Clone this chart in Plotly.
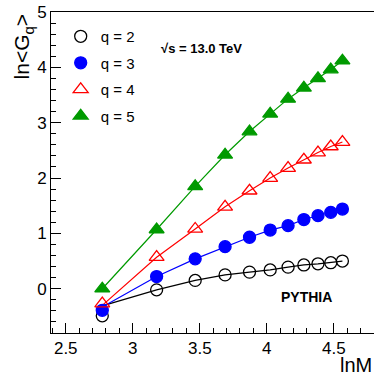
import numpy as np
import plotly.graph_objects as go

M = [16, 24, 32, 40, 48, 56, 64, 72, 80, 88, 96]
lnM = list(np.log(M))

q2 = [-0.49, -0.02, 0.15, 0.25, 0.30, 0.34, 0.39, 0.43, 0.45, 0.47, 0.50]
q3 = [-0.39, 0.22, 0.54, 0.76, 0.93, 1.06, 1.14, 1.25, 1.32, 1.38, 1.44]
q4 = [-0.27, 0.57, 1.08, 1.48, 1.77, 2.00, 2.18, 2.33, 2.46, 2.57, 2.65]
q5 = [0.00, 1.07, 1.85, 2.42, 2.84, 3.16, 3.43, 3.63, 3.80, 3.96, 4.12]

# fit curves (same points, first value from the drawn fit line)
fit2 = [-0.31] + q2[1:]
fit3 = [-0.33] + q3[1:]
fit4 = [-0.30] + q4[1:]
fit5 = [0.00] + q5[1:]

labels = ["q = 2", "q = 3", "q = 4", "q = 5"]
colors = ["black", "#0000ff", "#ff0000", "#009a00"]
symbols = ["circle-open", "circle", "triangle-up-open", "triangle-up"]
sizes = [12, 12, 13, 13]

fig = go.Figure()
for fit, c in zip([fit2, fit3, fit4, fit5], colors):
    fig.add_trace(go.Scatter(x=lnM, y=fit, mode="lines", line=dict(color=c, width=1.2),
                             showlegend=False, hoverinfo="skip"))
for ys, lab, c, s, sz in zip([q2, q3, q4, q5], labels, colors, symbols, sizes):
    fig.add_trace(go.Scatter(x=lnM, y=ys, mode="markers", name=lab, legendgroup=lab,
                             marker=dict(color=c, symbol=s, size=sz,
                                         line=dict(color=c, width=1.3))))

font = "Liberation Sans, Arial, sans-serif"
fig.update_layout(
    width=374, height=378,
    margin=dict(l=51, r=0, t=12, b=45, autoexpand=False),
    paper_bgcolor="white", plot_bgcolor="white",
    font=dict(family=font, color="black"),
    xaxis=dict(range=[2.39, 4.80], tickvals=[2.5, 3, 3.5, 4, 4.5],
               ticktext=["2.5", "3", "3.5", "4", "4.5"], automargin=False,
               ticks="inside", ticklen=10, tickwidth=1, tickcolor="black",
               showline=True, linecolor="black", linewidth=1, mirror=True,
               showgrid=False, zeroline=False, tickfont=dict(size=17),
               minor=dict(dtick=0.1, ticks="inside", ticklen=5, tickcolor="black", showgrid=False)),
    yaxis=dict(range=[-0.8, 5.0], tickvals=[0, 1, 2, 3, 4, 5], automargin=False,
               ticks="inside", ticklen=10, tickwidth=1, tickcolor="black",
               showline=True, linecolor="black", linewidth=1, mirror=False,
               showgrid=False, zeroline=False, tickfont=dict(size=17),
               minor=dict(dtick=0.2, ticks="inside", ticklen=5, tickcolor="black", showgrid=False)),
    legend=dict(x=0.03, y=0.975, xanchor="left", yanchor="top", bgcolor="rgba(0,0,0,0)",
                font=dict(size=15), itemwidth=30, tracegroupgap=4),
    annotations=[
        dict(text="ln&lt;G<sub>q</sub>&gt;", xref="paper", yref="paper", x=-0.087, y=1.0,
             xanchor="center", yanchor="top", textangle=-90, showarrow=False,
             font=dict(size=21)),
        dict(text="lnM", xref="paper", yref="paper", x=1.0, y=-0.06,
             xanchor="right", yanchor="top", showarrow=False, font=dict(size=20)),
        dict(text="<b>√s = 13.0 TeV</b>", xref="paper", yref="paper", x=0.335, y=0.885,
             xanchor="left", yanchor="middle", showarrow=False, font=dict(size=13)),
        dict(text="<b>PYTHIA</b>", xref="paper", yref="paper", x=0.79, y=0.112,
             xanchor="center", yanchor="middle", showarrow=False, font=dict(size=14)),
    ],
)
fig.write_html("out.html", config={"displayModeBar": False},
               post_script="document.body.style.margin='0';document.body.style.overflow='hidden';")
